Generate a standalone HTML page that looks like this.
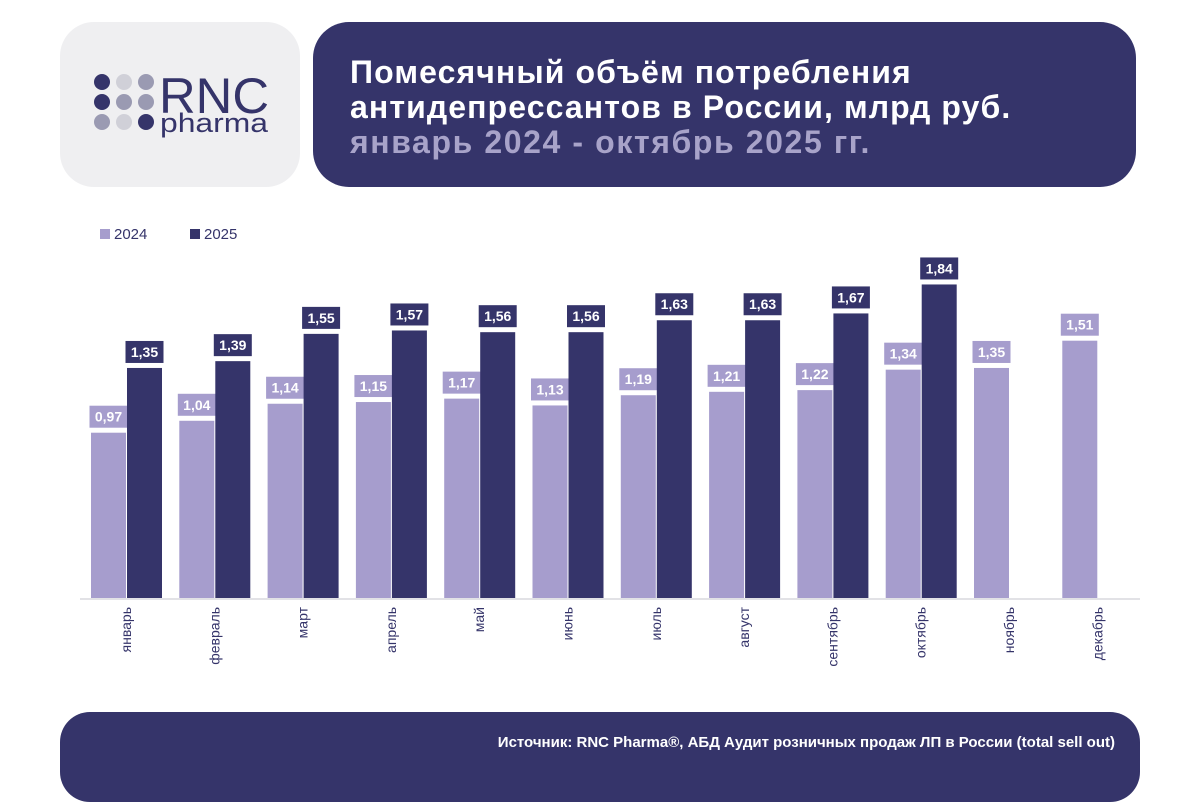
<!DOCTYPE html>
<html><head><meta charset="utf-8">
<style>
body{margin:0;width:1200px;height:772px;background:#fff;overflow:hidden;position:relative;font-family:"Liberation Sans","DejaVu Sans",sans-serif}
.logo{position:absolute;left:60px;top:22px;width:240px;height:165px;background:#efeff1;border-radius:34px}
.hdr{position:absolute;left:313px;top:22px;width:823px;height:165px;background:#35346a;border-radius:36px}
.hdr div{position:absolute;left:37px;font-weight:bold;font-size:32px;color:#fff;white-space:nowrap;letter-spacing:1.1px}
.foot{position:absolute;left:60px;top:712px;width:1080px;height:90px;background:#35346a;border-radius:30px}
</style></head><body>
<div class="logo">
<svg width="240" height="165">
<g>
<circle cx="42" cy="60" r="8" fill="#35346a"/><circle cx="64" cy="60" r="8" fill="#d0d0d8"/><circle cx="86" cy="60" r="8" fill="#9a9ab2"/>
<circle cx="42" cy="80" r="8" fill="#35346a"/><circle cx="64" cy="80" r="8" fill="#9a9ab2"/><circle cx="86" cy="80" r="8" fill="#9a9ab2"/>
<circle cx="42" cy="100" r="8" fill="#9a9ab2"/><circle cx="64" cy="100" r="8" fill="#d0d0d8"/><circle cx="86" cy="100" r="8" fill="#35346a"/>
</g>
<text x="99" y="91" font-family="Liberation Sans, sans-serif" font-size="50" fill="#35346a" textLength="110" lengthAdjust="spacingAndGlyphs">RNC</text>
<text x="100" y="110" font-family="Liberation Sans, sans-serif" font-size="27" fill="#35346a" textLength="108" lengthAdjust="spacingAndGlyphs">pharma</text>
</svg></div>
<div class="hdr">
<div style="top:32px">Помесячный объём потребления</div>
<div style="top:67px">антидепрессантов в России, млрд руб.</div>
<div style="top:102px;color:#a8a3c9;letter-spacing:1.6px">январь 2024 - октябрь 2025 гг.</div>
</div>
<svg id="chart" width="1200" height="772" style="position:absolute;left:0;top:0"></svg>
<div class="foot">
<div style="position:absolute;right:25px;top:22px;color:#fff;font-weight:bold;font-size:15px;white-space:nowrap">Источник: RNC Pharma®, АБД Аудит розничных продаж ЛП в России (total sell out)</div>
</div>
<script>
const months=["январь","февраль","март","апрель","май","июнь","июль","август","сентябрь","октябрь","ноябрь","декабрь"];
const values2024=[0.97,1.04,1.14,1.15,1.17,1.13,1.19,1.21,1.22,1.34,1.35,1.51];
const values2025=[1.35,1.39,1.55,1.57,1.56,1.56,1.63,1.63,1.67,1.84,null,null];
const seriesNames=["2024","2025"];
const C1="#a69dcd",C2="#35346a";
const svg=document.getElementById('chart');
const NS="http://www.w3.org/2000/svg";
const base=598,scale=170.4,x0=91,step=88.3,bw=35;
const yS=v=>base-v*scale;
const xS=(i,s)=>x0+i*step+s*(bw+1);
function mk(t,a){const e=document.createElementNS(NS,t);for(const k in a)e.setAttribute(k,a[k]);svg.appendChild(e);return e;}
seriesNames.forEach((n,i)=>{
  const r=mk('rect',{x:100+i*90,y:229,width:10,height:10,fill:i?C2:C1});
  
  
  const t=mk('text',{x:114+i*90,y:239,'font-size':15,fill:'#35346a'});t.textContent=n;
  
  
});
const ax=mk('line',{x1:80,x2:1140,y1:599,y2:599,stroke:'#d8d8de','stroke-width':1.5});


[values2024,values2025].forEach((arr,s)=>{
  arr.forEach((v,i)=>{
    if(v==null)return;
    const x=xS(i,s),y=yS(v),col=s?C2:C1;
    const r=mk('rect',{x:x,y:y,width:bw,height:base-y,fill:col});
    
    
    const lb=mk('rect',{x:x+bw/2-19,y:y-27,width:38,height:22,fill:col});
    
    
    const t=mk('text',{x:x+bw/2,y:y-11,'text-anchor':'middle','font-size':14,'font-weight':'bold',fill:'#fff'});
    t.textContent=v.toFixed(2).replace('.',',');
    
    
  });
});
months.forEach((m,i)=>{
  const cx=x0+i*step+bw+5;
  const t=mk('text',{x:0,y:0,'text-anchor':'end','font-size':14,fill:'#35346a',transform:`translate(${cx},607) rotate(-90)`});
  t.textContent=m;
  
  
});
</script>
</body></html>
